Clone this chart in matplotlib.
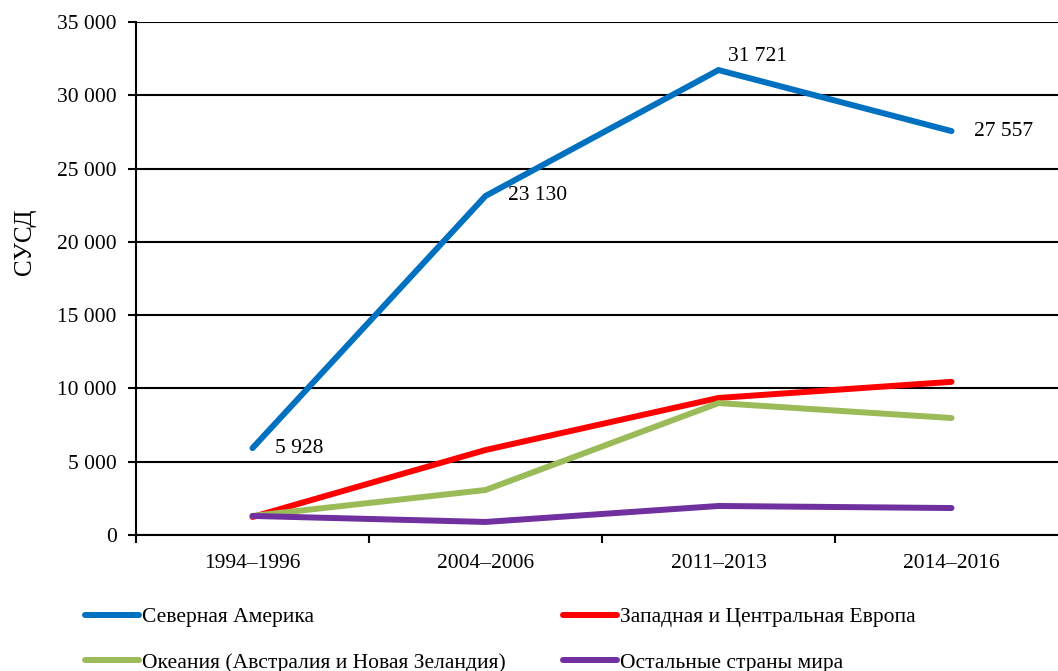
import matplotlib
matplotlib.use("Agg")
import matplotlib.pyplot as plt
from matplotlib.ticker import FuncFormatter, FixedLocator

plt.rcParams['font.family'] = ['Liberation Serif', 'DejaVu Serif']

periods = ['1994–1996', '2004–2006', '2011–2013', '2014–2016']
north_america = [5928, 23130, 31721, 27557]
west_central_europe = [1230, 5800, 9350, 10450]
oceania = [1300, 3070, 9000, 7980]
rest_of_world = [1300, 890, 1980, 1840]

series_names = ['Северная Америка', 'Западная и Центральная Европа',
                'Океания (Австралия и Новая Зеландия)', 'Остальные страны мира']
colors = ['#0070C0', '#FF0000', '#9BBB59', '#7030A0']

fig = plt.figure(figsize=(10.58, 6.71), dpi=100)
ax = fig.add_axes([136 / 1058, 1 - 535 / 671, 932 / 1058, 513 / 671])

x = list(range(len(periods)))
lines = {}
for name, vals, c in zip(series_names,
                         [north_america, west_central_europe, oceania, rest_of_world],
                         colors):
    lines[name], = ax.plot(x, vals, color=c, lw=4.3, solid_capstyle='round',
                           solid_joinstyle='miter', zorder=3)

# data labels on North America
offsets = [(16, 0, 'left', 'center'), (16, 0, 'left', 'center'),
           (7, 3, 'left', 'bottom'), (16, 0, 'left', 'center')]
for xi, v, (dx, dy, ha, va) in zip(x, north_america, offsets):
    ax.annotate(f'{v:,}'.replace(',', ' '), (xi, v), xytext=(dx, dy),
                textcoords='offset points', ha=ha, va=va, fontsize=15.5)

ax.set_xlim(-0.5, 3.5)
ax.set_ylim(0, 35000)
ax.set_yticks(range(0, 35001, 5000))
ax.yaxis.set_major_formatter(FuncFormatter(lambda v, p: f'{int(v):,}'.replace(',', ' ')))
ax.grid(axis='y', color='black', lw=1.5)
ax.set_axisbelow(True)

ax.xaxis.set_major_locator(FixedLocator([-0.5, 0.5, 1.5, 2.5, 3.5]))
ax.xaxis.set_minor_locator(FixedLocator(x))
ax.set_xticklabels([])
ax.set_xticklabels(periods, minor=True)
ax.tick_params(axis='x', which='major', length=6, width=1.5, direction='out')
ax.tick_params(axis='x', which='minor', length=0, pad=14, labelsize=15.5)
ax.tick_params(axis='y', length=6, width=1.5, direction='out', pad=8, labelsize=15.5)

for s in ['top', 'right']:
    ax.spines[s].set_visible(False)
for s in ['left', 'bottom']:
    ax.spines[s].set_linewidth(1.5)
    ax.spines[s].set_color('black')

fig.text(25 / 1058, 1 - 242 / 671, 'СУСД', rotation=90, ha='center', va='center',
         fontsize=18)

order = [0, 2, 1, 3]
handles = [lines[series_names[i]] for i in order]
labels = [series_names[i] for i in order]
fig.legend(handles, labels, loc='upper left', bbox_to_anchor=(85 / 1058, 1 - 607 / 671),
           ncol=2, frameon=False, fontsize=15.5, handlelength=2.5, handletextpad=0.15,
           columnspacing=2.65, labelspacing=1.2, borderpad=0, borderaxespad=0)

fig.savefig('out.png', dpi=100)
